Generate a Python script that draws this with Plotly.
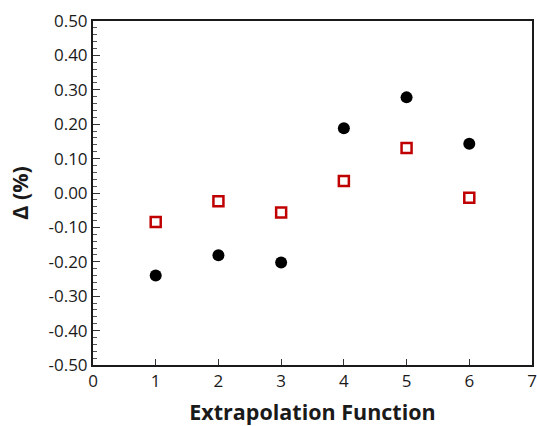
import plotly.graph_objects as go

x_vals = [1, 2, 3, 4, 5, 6]
circles = [-0.240, -0.181, -0.202, 0.188, 0.278, 0.143]
squares = [-0.084, -0.024, -0.057, 0.035, 0.131, -0.014]
y_ticks = [-0.5, -0.4, -0.3, -0.2, -0.1, 0.0, 0.1, 0.2, 0.3, 0.4, 0.5]
y_labels = ["-0.50", "-0.40", "-0.30", "-0.20", "-0.10", "0.00", "0.10", "0.20", "0.30", "0.40", "0.50"]
x_ticks = [0, 1, 2, 3, 4, 5, 6, 7]

fig = go.Figure()
fig.add_trace(go.Scatter(x=x_vals, y=circles, mode="markers",
                         marker=dict(symbol="circle", size=12, color="black"),
                         showlegend=False))
fig.add_trace(go.Scatter(x=x_vals, y=squares, mode="markers",
                         marker=dict(symbol="square-open", size=10, color="#c00000",
                                     line=dict(width=2.5, color="#c00000")),
                         showlegend=False))

font_family = "Open Sans, Noto Sans, sans-serif"
fig.update_layout(
    width=537, height=426, autosize=False,
    margin=dict(l=93, r=3, t=21, b=61),
    plot_bgcolor="white", paper_bgcolor="white",
    font=dict(family=font_family, color="#1a1a1a"),
    xaxis=dict(range=[0, 7], tickvals=x_ticks, ticks="inside", ticklen=6,
               tickcolor="#333", showgrid=False, zeroline=False, automargin=False,
               showline=True, linecolor="#1a1a1a", linewidth=2, mirror=True,
               tickfont=dict(size=17),
               title=dict(text="<b>Extrapolation Function</b>", font=dict(size=21.5), standoff=14)),
    yaxis=dict(range=[-0.5, 0.5], tickvals=y_ticks, ticktext=y_labels,
               ticks="inside", ticklen=7, tickcolor="#333",
               minor=dict(dtick=0.02, ticks="inside", ticklen=4, tickcolor="#555"),
               showgrid=False, zeroline=False,
               showline=True, linecolor="#1a1a1a", linewidth=2, mirror=True,
               tickfont=dict(size=17),
               title=dict(text="<b>Δ (%)</b>", font=dict(size=21.5), standoff=14)),
)

post = ("document.body.style.margin='0';document.body.style.overflow='hidden';"
        "Plotly.relayout(document.getElementById('{plot_id}'), {width:537, height:426});")
fig.write_html("out.html", config={"responsive": False, "displayModeBar": False}, post_script=post)
